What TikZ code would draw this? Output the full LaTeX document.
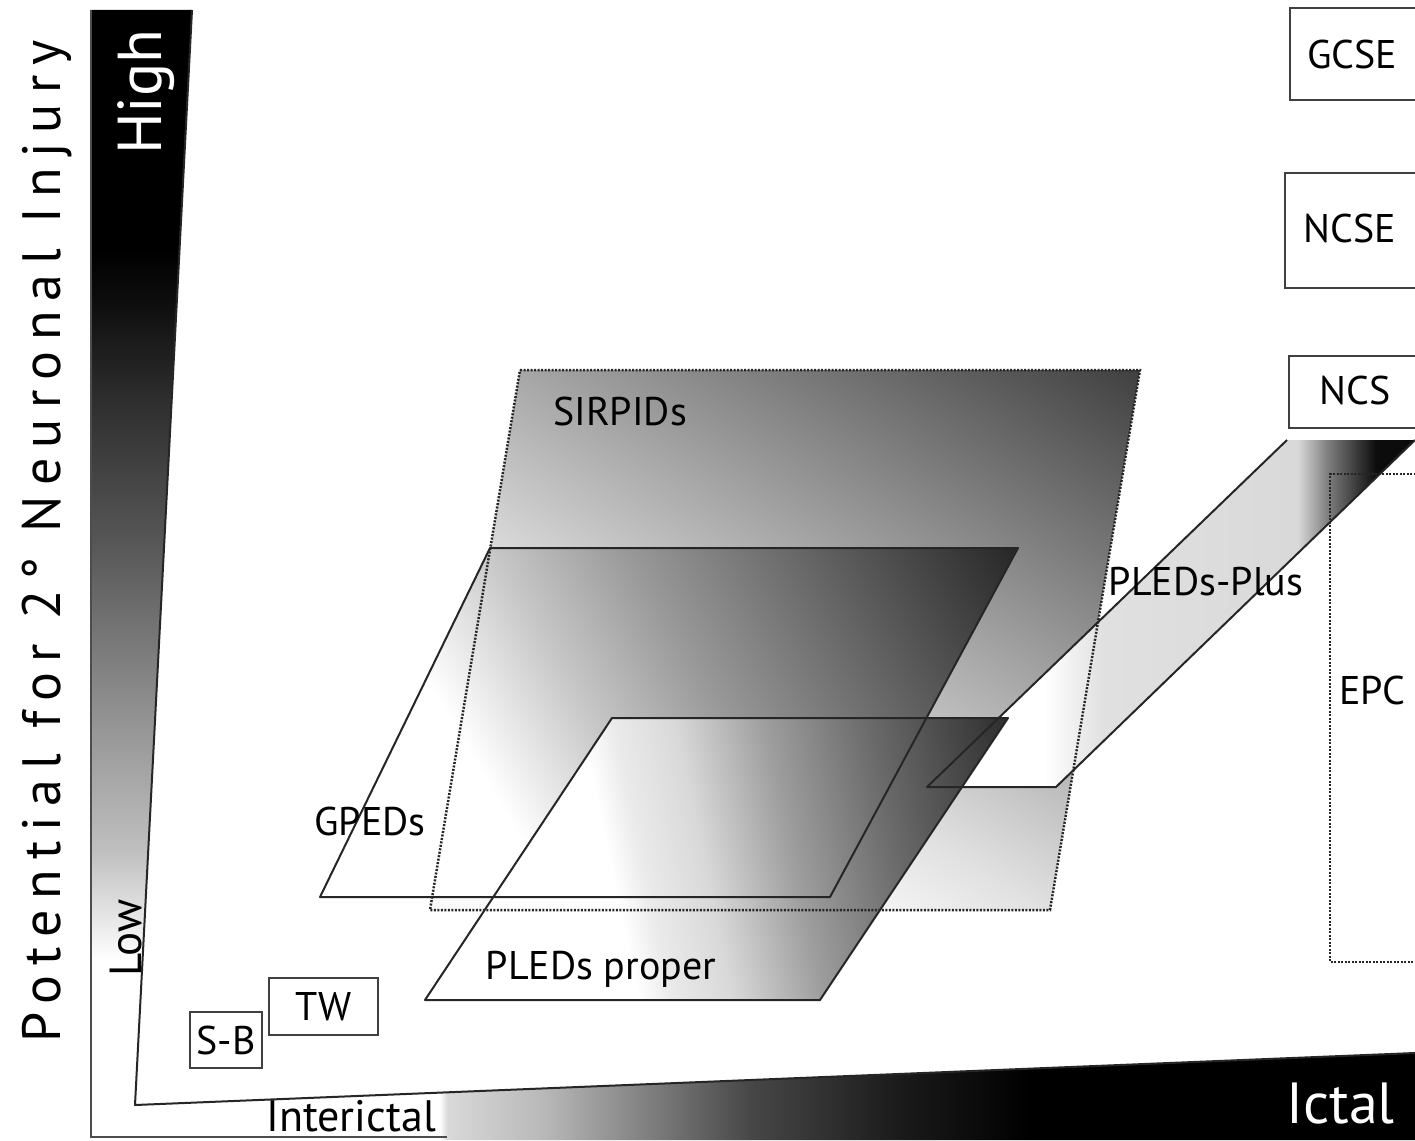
\documentclass[tikz,border=0pt]{standalone}
\usepackage{fontspec}
\setmainfont{PT Sans}
\newfontfamily\spacedfont[LetterSpace=19]{PT Sans}
\pgfdeclarehorizontalshading{sirshade}{100bp}{color(0bp)=(white); color(38.4bp)=(black!3); color(44.4bp)=(black!12); color(55.6bp)=(black!35); color(75bp)=(black!75); color(100bp)=(black!75)}
\pgfdeclarehorizontalshading{gpshade}{100bp}{color(0bp)=(white); color(38bp)=(white); color(45.8bp)=(black!22); color(53.2bp)=(black!40); color(75bp)=(black!85); color(100bp)=(black!85)}
\pgfdeclarehorizontalshading{plshade}{100bp}{color(0bp)=(white); color(41.6bp)=(white); color(44.1bp)=(black!8); color(48.9bp)=(black!15); color(55.9bp)=(black!38); color(63.9bp)=(black!58); color(75bp)=(black!82); color(100bp)=(black!82)}
\pgfdeclarehorizontalshading{plusshade}{100bp}{color(0bp)=(white); color(37bp)=(white); color(43bp)=(black!12); color(63bp)=(black!15); color(66bp)=(black!50); color(71bp)=(black!95); color(100bp)=(black)}
\pgfdeclareverticalshading{vwedge}{100bp}{color(0bp)=(white); color(31.6bp)=(white); color(36.6bp)=(black!25); color(43.5bp)=(black!45); color(50.3bp)=(black!65); color(57.2bp)=(black!82); color(61.8bp)=(black!95); color(64bp)=(black); color(100bp)=(black)}
\pgfdeclarehorizontalshading{hwedge}{100bp}{color(0bp)=(white); color(36.9bp)=(white); color(37.2bp)=(black!15); color(41bp)=(black!28); color(45bp)=(black!50); color(49bp)=(black!72); color(55bp)=(black!90); color(60bp)=(black); color(100bp)=(black)}
\begin{document}
\begin{tikzpicture}[x=1pt,y=-1pt,
  lbl/.style={inner sep=0pt, font=\fontsize{40}{40}\selectfont},
  solidline/.style={draw=black!85, line width=2pt, line join=round},
  dotline/.style={draw=black!85, line width=2.5pt, dash pattern=on 2pt off 1.5pt},
  boxline/.style={draw=black!75, line width=2.5pt},
  smallbox/.style={draw=black!75, line width=2.5pt, inner sep=0pt, font=\fontsize{40}{40}\selectfont}]
\useasboundingbox (0,0) rectangle (1415,1140);
\clip (0,0) rectangle (1415,1140);
\fill[white] (0,0) rectangle (1415,1140);

% axis wedges
\coordinate (vo1) at (91,10);
\coordinate (vi1) at (192,10);
\coordinate (corner) at (135,1105);
\coordinate (hi2) at (1415,1053);
\coordinate (vo2) at (91,1137);
\coordinate (ho2) at (447,1137);
\shade[shading=vwedge] (vo1) -- (vi1) -- (corner) -- (91,1105) -- cycle;
\shade[shading=hwedge] (corner) -- (hi2) -- (1415,1140) -- (135,1140) -- cycle;
\draw[draw=black!70, line width=2pt] (vo1) -- (vo2) -- (ho2);
\draw[draw=black!85, line width=2pt, line join=round] (vi1) -- (corner) -- (hi2);

% parallelogram corners
\coordinate (s1) at (520,370); \coordinate (s2) at (1140,370);
\coordinate (s3) at (1050,910); \coordinate (s4) at (430,910);
\coordinate (g1) at (490,548); \coordinate (g2) at (1018,548);
\coordinate (g3) at (830,897); \coordinate (g4) at (320,897);
\coordinate (p1) at (612,718); \coordinate (p2) at (1008,718);
\coordinate (p3) at (820,1000); \coordinate (p4) at (425,1000);
\coordinate (q1) at (1287,440); \coordinate (q2) at (1415,440);
\coordinate (q3) at (1056,787); \coordinate (q4) at (927,787);

% fills
\begin{scope}
  \clip (s1) -- (s2) -- (s3) -- (s4) -- cycle;
  \begin{scope}[transform canvas={rotate=58.6}]
    \shade[shading=sirshade] (-553,550) rectangle (278,1450);
  \end{scope}
\end{scope}
\shade[shading=plusshade] (q1) -- (q2) -- (q3) -- (q4) -- cycle;
\begin{scope}
  \clip (g1) -- (g2) -- (g3) -- (g4) -- cycle;
  \begin{scope}[transform canvas={rotate=30.6}]
    \shade[shading=gpshade] (-181,600) rectangle (598,1300);
  \end{scope}
\end{scope}
\begin{scope}
  \clip (p1) -- (p2) -- (p3) -- (p4) -- cycle;
  \begin{scope}[transform canvas={rotate=11.8}]
    \shade[shading=plshade] (212,750) rectangle (840,1250);
  \end{scope}
\end{scope}

% outlines
\draw[dotline] (s1) -- (s2) -- (s3) -- (s4) -- cycle;
\draw[solidline] (g1) -- (g2) -- (g3) -- (g4) -- cycle;
\draw[solidline] (p1) -- (p2) -- (p3) -- (p4) -- cycle;
\draw[solidline] (q1) -- (q4) -- (q3) -- (q2);

% EPC dotted box
\draw[dotline] (1440,474) -- (1330,474) -- (1330,962) -- (1440,962);

% right boxes
\draw[boxline] (1440,8) -- (1290,8) -- (1290,100) -- (1440,100);
\draw[boxline] (1440,173) -- (1285,173) -- (1285,288) -- (1440,288);
\draw[boxline] (1440,356) -- (1289,356) -- (1289,428) -- (1440,428);

% small boxes
\node[smallbox, minimum width=72pt, minimum height=56pt] (sb) at (226,1040) {S-B};
\node[smallbox, minimum width=109pt, minimum height=57pt] (tw) at (323.5,1006.5) {TW};

% labels
\node[lbl] (sirpids) at (620,411) {SIRPIDs};
\node[lbl] (gpeds) at (370,821) {GPEDs};
\node[lbl] (pledsproper) at (601,969) {PLEDs proper};
\node[lbl] (pledsplus) at (1206,582) {PLEDs-Plus};
\node[lbl] (epc) at (1372,690) {EPC};
\node[lbl] (gcse) at (1352,54) {GCSE};
\node[lbl] (ncse) at (1350,228) {NCSE};
\node[lbl] (ncs) at (1355,390) {NCS};

% axis texts
\node[rotate=90, anchor=base west, inner sep=0pt, font=\spacedfont\fontsize{54}{54}\selectfont] (ylabel) at (60,1043) {Potential for 2° Neuronal Injury};
\node[rotate=90, anchor=base west, inner sep=0pt, text=white, font=\fontsize{62}{62}\selectfont] (high) at (161,155) {High};
\node[rotate=90, anchor=base west, inner sep=0pt, font=\fontsize{45}{45}\selectfont] (low) at (141,977) {Low};
\node[anchor=base west, inner sep=0pt, font=\fontsize{44}{44}\selectfont] (interictal) at (266,1131) {Interictal};
\node[anchor=base east, inner sep=0pt, text=white, font=\fontsize{58}{58}\selectfont] (ictal) at (1395,1123) {Ictal};
\end{tikzpicture}
\end{document}
